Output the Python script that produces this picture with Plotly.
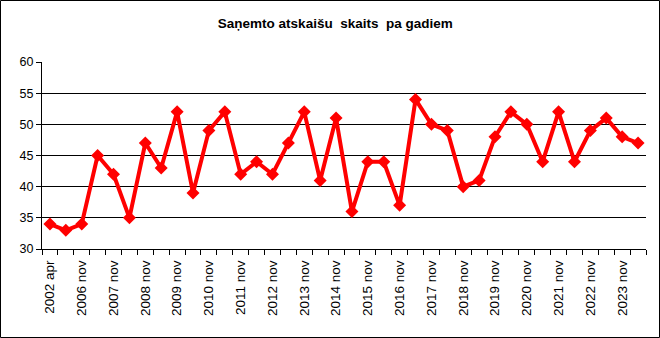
import plotly.graph_objects as go

categories = ["2002 apr", "2006 apr", "2006 nov"]
for yr in range(2007, 2024):
    categories += [f"{yr} apr", f"{yr} nov"]
categories += ["2024 apr"]

values = [34, 33, 34, 45, 42, 35, 47, 43, 52, 39, 49, 52, 42, 44, 42, 47, 52, 41, 51,
          36, 44, 44, 37, 54, 50, 49, 40, 41, 48, 52, 50, 44, 52, 44, 49, 51, 48, 47]

title_text = "Saņemto atskaišu  skaits  pa gadiem"
y_ticks = [30, 35, 40, 45, 50, 55, 60]
grid_vals = [35, 40, 45, 50, 55]

x_idx = list(range(len(categories)))
label_idx = x_idx[0::2]
label_text = [categories[i] for i in label_idx]
bounds = [i - 0.5 for i in x_idx] + [len(categories) - 0.5]

W, H = 660, 338
L, R, T, B = 42, 14, 62, 89

fig = go.Figure()
fig.add_trace(go.Scatter(
    x=x_idx, y=values, mode="lines+markers",
    line=dict(color="#ff0000", width=4),
    marker=dict(symbol="diamond", size=10, color="#ff0000"),
    hoverinfo="skip", cliponaxis=False,
))

pw = W - L - R
ph = H - T - B
fig.add_shape(type="rect", xref="paper", yref="paper",
              x0=(-L + 0.5) / pw, x1=1 + (R - 0.5) / pw,
              y0=(-B + 0.5) / ph, y1=1 + (T - 0.5) / ph,
              line=dict(color="black", width=1), layer="below")

fig.update_layout(
    width=W, height=H,
    margin=dict(l=L, r=R, t=T, b=B, pad=0),
    paper_bgcolor="white", plot_bgcolor="white",
    showlegend=False,
    font=dict(family="Liberation Sans, Arial", size=12, color="black"),
    title=dict(text=f"<b>{title_text}</b>", x=0.508, xanchor="center",
               y=1 - 23 / H, yanchor="middle",
               font=dict(family="Liberation Sans Narrow, Liberation Sans, Arial", size=13.5, color="black")),
)
fig.update_xaxes(
    range=[-0.5, len(categories) - 0.5],
    tickmode="array", tickvals=label_idx, ticktext=label_text,
    tickangle=-90, ticks="", ticklabelstandoff=5,
    showgrid=False, zeroline=False,
    showline=True, linecolor="black", linewidth=1,
    minor=dict(tickmode="array", tickvals=bounds, ticks="outside", ticklen=5,
               tickcolor="black", tickwidth=1, showgrid=False),
    tickfont=dict(size=13.5, color="black"),
)
fig.update_yaxes(
    range=[30, 60], tickmode="array", tickvals=y_ticks,
    ticks="outside", ticklen=5, tickcolor="black", tickwidth=1,
    showgrid=False, zeroline=False,
    showline=True, linecolor="black", linewidth=1,
    minor=dict(tickmode="array", tickvals=grid_vals, showgrid=True,
               gridcolor="black", gridwidth=1, ticks=""),
    tickfont=dict(size=12.5, color="black"),
)

fig.write_html("out.html")
